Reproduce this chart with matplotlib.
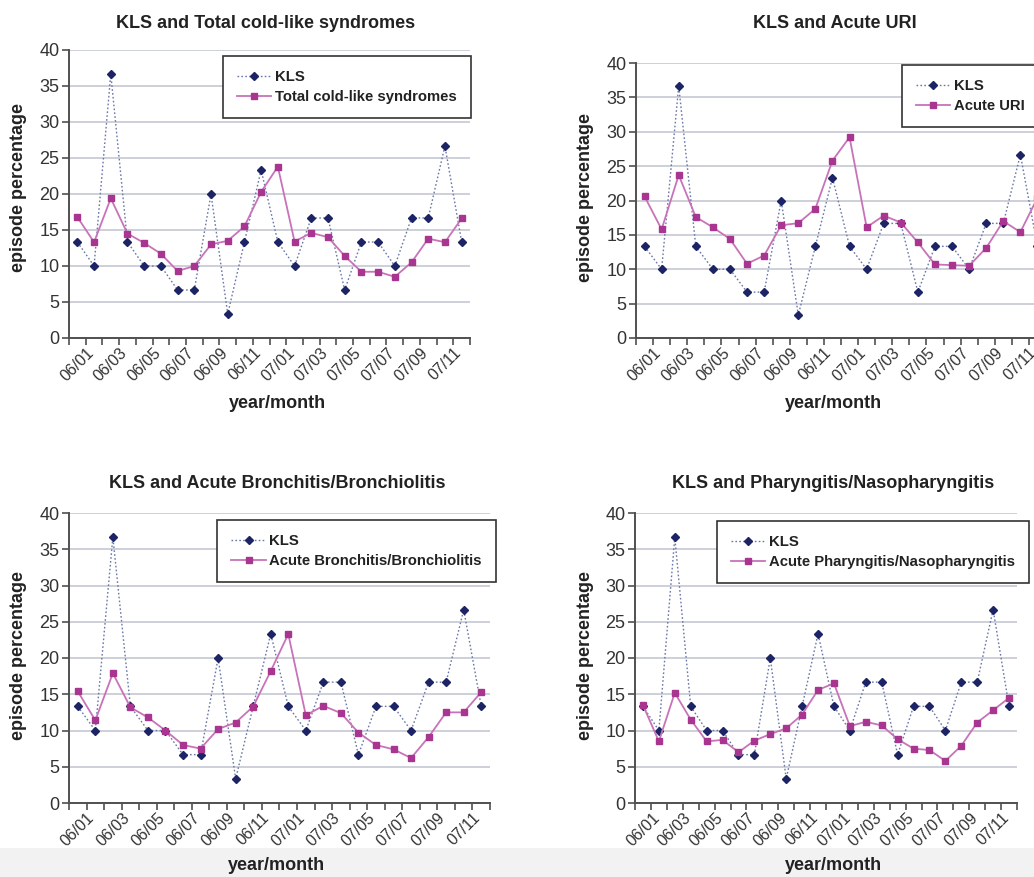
import matplotlib
matplotlib.use('Agg')
import matplotlib.pyplot as plt
from matplotlib.patches import Rectangle

plt.rcParams['font.family'] = ['Liberation Sans Narrow', 'Liberation Sans', 'DejaVu Sans']

months = ['06/01', '06/02', '06/03', '06/04', '06/05', '06/06', '06/07', '06/08',
          '06/09', '06/10', '06/11', '06/12', '07/01', '07/02', '07/03', '07/04',
          '07/05', '07/06', '07/07', '07/08', '07/09', '07/10', '07/11', '07/12']

kls = [13.33, 10.0, 36.67, 13.33, 10.0, 10.0, 6.67, 6.67, 20.0, 3.33, 13.33, 23.33,
       13.33, 10.0, 16.67, 16.67, 6.67, 13.33, 13.33, 10.0, 16.67, 16.67, 26.67, 13.33]

total_cold = [16.8, 13.3, 19.4, 14.5, 13.2, 11.7, 9.3, 10.0, 13.0, 13.5, 15.5, 20.3,
              23.8, 13.4, 14.6, 14.0, 11.4, 9.2, 9.2, 8.5, 10.5, 13.8, 13.3, 16.6]

acute_uri = [20.6, 15.8, 23.7, 17.6, 16.1, 14.4, 10.8, 12.0, 16.4, 16.7, 18.8, 25.8,
             29.2, 16.1, 17.8, 16.8, 13.9, 10.7, 10.6, 10.5, 13.1, 17.0, 15.4, 20.4]

bronchitis = [15.4, 11.4, 17.9, 13.2, 11.8, 10.0, 8.0, 7.5, 10.2, 11.1, 13.3, 18.2,
              23.3, 12.1, 13.4, 12.4, 9.7, 8.0, 7.4, 6.2, 9.1, 12.5, 12.5, 15.3]

pharyngitis = [13.5, 8.5, 15.2, 11.5, 8.5, 8.7, 7.0, 8.6, 9.5, 10.3, 12.2, 15.6,
               16.5, 10.6, 11.2, 10.7, 8.8, 7.5, 7.3, 5.8, 7.9, 11.1, 12.8, 14.5]

W, H = 1034, 877
kls_line = '#6a78a8'
kls_mark = '#1c2466'
dis_line = '#c873b9'
dis_mark = '#a8358f'
grid_c = '#c9cdd6'
spine_c = '#505050'


def px(x0, y0, x1, y1):
    # pixel box (top-left origin) -> figure fraction rect
    return [x0 / W, 1 - y1 / H, (x1 - x0) / W, (y1 - y0) / H]


def panel(fig, rect, series, name, title, title_xy, xlabel_xy, ylabel_xy, leg_anchor, leg_loc):
    ax = fig.add_axes(px(*rect))
    x = list(range(len(months)))
    ax.plot(x, kls, linestyle=(0, (1.2, 1.6)), color=kls_line, lw=1.0,
            marker='D', ms=3.6, mfc=kls_mark, mec=kls_mark, label='KLS', clip_on=False)
    ax.plot(x, series, linestyle='-', color=dis_line, lw=1.3,
            marker='s', ms=4.2, mfc=dis_mark, mec=dis_mark, label=name, clip_on=False)
    ax.set_xlim(-0.5, len(months) - 0.5)
    ax.set_ylim(0, 40)
    ax.set_yticks(range(0, 41, 5))
    ax.yaxis.grid(True, color=grid_c, lw=1.3)
    ax.set_axisbelow(True)
    for s in ['top', 'right']:
        ax.spines[s].set_visible(False)
    for s in ['left', 'bottom']:
        ax.spines[s].set_color(spine_c)
        ax.spines[s].set_linewidth(1.4)
    ax.set_xticks(x[::2])
    ax.set_xticklabels(months[::2], rotation=45, ha='center', va='top')
    ax.set_xticks([i - 0.5 for i in range(len(months) + 1)], minor=True)
    ax.tick_params(axis='x', which='major', length=0, pad=5, labelsize=11.5, labelcolor='#333333')
    ax.tick_params(axis='x', which='minor', length=5, width=1.2, color=spine_c, direction='out')
    ax.tick_params(axis='y', length=5, width=1.2, color=spine_c, pad=2, labelsize=13, labelcolor='#333333')
    fig.text(title_xy[0] / W, 1 - title_xy[1] / H, title, ha='center', va='center',
             fontsize=13, fontweight='bold', color='#222222')
    fig.text(xlabel_xy[0] / W, 1 - xlabel_xy[1] / H, 'year/month', ha='center', va='center',
             fontsize=13, fontweight='bold', color='#222222')
    fig.text(ylabel_xy[0] / W, 1 - ylabel_xy[1] / H, 'episode percentage', ha='center', va='center',
             rotation=90, fontsize=13, fontweight='bold', color='#222222')
    leg = ax.legend(loc=leg_loc, bbox_to_anchor=(leg_anchor[0] / W, 1 - leg_anchor[1] / H),
                    bbox_transform=fig.transFigure, borderaxespad=0, frameon=True, fancybox=False,
                    prop={'weight': 'bold', 'size': 10.7}, handlelength=2.3, handletextpad=0.25,
                    borderpad=0.95, labelspacing=0.4, framealpha=1)
    leg.get_frame().set_edgecolor('#333333')
    leg.get_frame().set_linewidth(1.2)
    for t in leg.get_texts():
        t.set_color('#222222')
    return ax


fig = plt.figure(figsize=(W / 100, H / 100), dpi=100)
fig.patches.append(Rectangle((0, 0), 1, 29 / H, transform=fig.transFigure,
                             facecolor='#f2f2f2', edgecolor='none', zorder=-1))

panel(fig, (69, 50, 470, 338), total_cold, 'Total cold-like syndromes',
      'KLS and Total cold-like syndromes', (266, 24), (277, 403), (19, 188), (471, 56), 'upper right')
panel(fig, (636, 63, 1046, 338), acute_uri, 'Acute URI',
      'KLS and Acute URI', (835, 24), (833, 403), (586, 198), (902, 65), 'upper left')
panel(fig, (69, 513, 490, 803), bronchitis, 'Acute Bronchitis/Bronchiolitis',
      'KLS and Acute Bronchitis/Bronchiolitis', (277, 483), (276, 866), (19, 656), (496, 520), 'upper right')
panel(fig, (635, 513, 1017, 803), pharyngitis, 'Acute Pharyngitis/Nasopharyngitis',
      'KLS and Pharyngitis/Nasopharyngitis', (833, 483), (833, 866), (585, 655), (1029, 521), 'upper right')

fig.savefig('out.png', dpi=100)
